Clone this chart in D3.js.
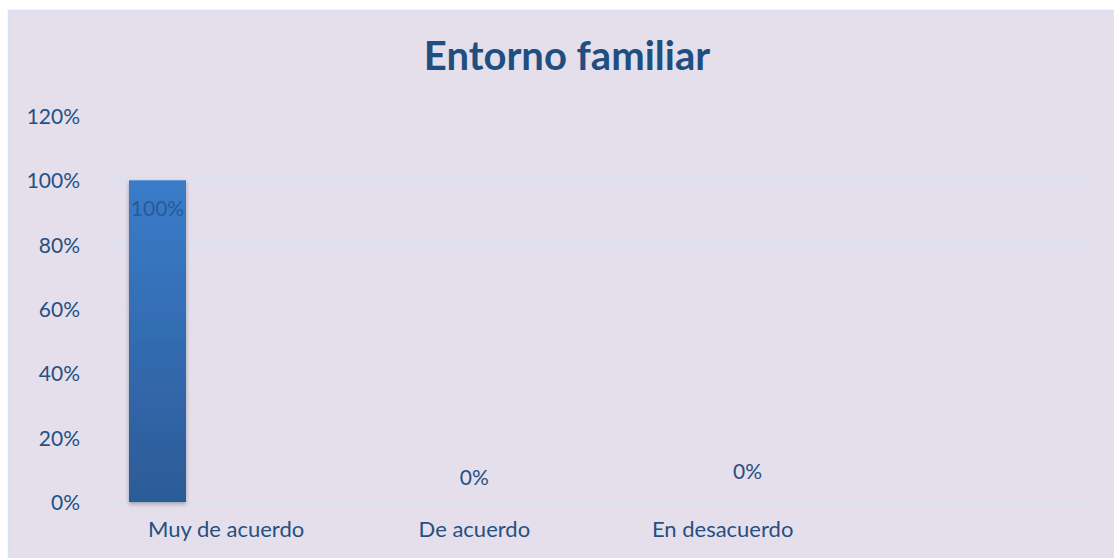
<!DOCTYPE html>
<head>
    <title>Entorno familiar</title>
    <style>
        body{ margin:0; background:#ffffff; }
        svg{ display:block; }
        text{ font-family: Lato, "Open Sans", sans-serif; }
    </style>
    <script src="https://d3js.org/d3.v7.min.js"></script>
</head>
<body>
    <svg width="1114" height="558"></svg>

    <script>
        // Daten
        var categories = ["Muy de acuerdo", "De acuerdo", "En desacuerdo", ""];
        var values = [1, 0, 0, null];
        var valueLabels = ["100%", "0%", "0%", ""];
        var yTicks = [0, 0.2, 0.4, 0.6, 0.8, 1, 1.2];

        var svg = d3.select("svg");
        var textColor = "#264f82";

        // Hintergrund
        svg.append("rect")
            .attr("x", 8.5).attr("y", 10.5)
            .attr("width", 1110).attr("height", 560)
            .attr("fill", "#e5dfeb")
            .attr("stroke", "#d3e2f4")
            .attr("stroke-width", 1.5);

        var x = d3.scaleBand().domain(categories).range([102, 1095]);
        var y = d3.scaleLinear().domain([0, 1.2]).range([502, 116]);

        // Gitterlinien
        svg.append("g").selectAll("line")
            .data(yTicks)
            .join("line")
            .attr("x1", 102).attr("x2", 1095)
            .attr("y1", d => y(d)).attr("y2", d => y(d))
            .attr("stroke", "#d4e2f3")
            .attr("stroke-width", 1.5);

        // Achse links
        var yAxis = svg.append("g")
            .attr("transform", "translate(80,0)")
            .call(d3.axisLeft(y).tickValues(yTicks).tickFormat(d3.format(".0%")).tickSize(0).tickPadding(0));
        yAxis.select(".domain").remove();
        yAxis.selectAll("text")
            .attr("fill", textColor)
            .style("font-size", "21px")
            .attr("dy", "0.35em");

        // Achse unten
        var xAxis = svg.append("g")
            .attr("transform", "translate(0,502)")
            .call(d3.axisBottom(x).tickSize(0).tickPadding(0));
        xAxis.select(".domain").remove();
        xAxis.selectAll("text")
            .attr("fill", textColor)
            .attr("y", 35)
            .attr("dy", 0)
            .style("font-size", "22px");

        // Verlauf für die Säule
        var defs = svg.append("defs");
        var grad = defs.append("linearGradient")
            .attr("id", "barGrad")
            .attr("x1", 0).attr("y1", 0).attr("x2", 0).attr("y2", 1);
        grad.append("stop").attr("offset", "0%").attr("stop-color", "#3a7cca");
        grad.append("stop").attr("offset", "100%").attr("stop-color", "#2c5b97");
        var shadow = defs.append("filter").attr("id", "shadow")
            .attr("x", "-20%").attr("y", "-5%").attr("width", "140%").attr("height", "115%");
        shadow.append("feDropShadow")
            .attr("dx", 0).attr("dy", 2).attr("stdDeviation", 2)
            .attr("flood-color", "#000").attr("flood-opacity", 0.3);

        var barOffset = 27, barWidth = 57;
        svg.append("g").selectAll("rect")
            .data(categories.map((c, i) => ({c: c, v: values[i]})).filter(d => d.v > 0))
            .join("rect")
            .attr("x", d => x(d.c) + barOffset)
            .attr("y", d => y(d.v))
            .attr("width", barWidth)
            .attr("height", d => y(0) - y(d.v))
            .attr("fill", "url(#barGrad)")
            .attr("filter", "url(#shadow)");

        // Beschriftungen
        var labelNudge = [0, 0, 25, 0];
        svg.append("g").selectAll("text")
            .data(categories.map((c, i) => ({c: c, v: values[i], t: valueLabels[i], i: i})).filter(d => d.v != null))
            .join("text")
            .attr("text-anchor", "middle")
            .attr("x", d => d.v > 0 ? x(d.c) + barOffset + barWidth / 2 : x(d.c) + x.bandwidth() / 2 + labelNudge[d.i])
            .attr("y", d => d.v > 0 ? y(d.v) + 36 : (d.i == 1 ? 485 : 479))
            .attr("fill", d => d.v > 0 ? "#2a5a93" : textColor)
            .style("font-size", "21px")
            .text(d => d.t);

        // Titel
        svg.append("text")
            .attr("x", 567).attr("y", 70)
            .attr("text-anchor", "middle")
            .attr("fill", "#1f4e80")
            .style("font-size", "40px")
            .style("font-weight", "bold")
            .text("Entorno familiar");
    </script>
</body>
</html>
